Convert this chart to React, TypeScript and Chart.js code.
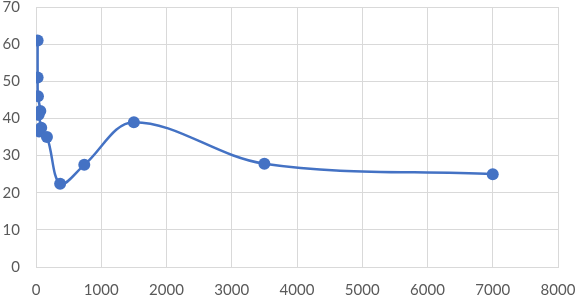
import React, { useEffect, useRef } from "react";
import { Chart, registerables } from "chart.js";

Chart.register(...registerables);

const xValues = [25, 25, 30, 66, 40, 80, 50, 168, 370, 740, 1500, 3500, 7000];
const yValues = [61, 51, 46, 42, 41, 37.5, 36.5, 35, 22.4, 27.5, 39, 27.8, 25];
const xTicks = { min: 0, max: 8000, step: 1000 };
const yTicks = { min: 0, max: 70, step: 10 };

const BLUE = "#4472C4";
const GRID = "#d9d9d9";
const TEXT = "#595959";

export default function App() {
  const ref = useRef<HTMLCanvasElement | null>(null);
  useEffect(() => {
    if (!ref.current) return;
    const data = xValues.map((x, i) => ({ x, y: yValues[i] }));
    const chart = new Chart(ref.current, {
      type: "scatter",
      data: {
        datasets: [
          {
            data,
            showLine: true,
            borderColor: BLUE,
            backgroundColor: BLUE,
            borderWidth: 2.5,
            pointRadius: 6,
            pointBorderWidth: 0,
            tension: 0.35,
          },
        ],
      },
      options: {
        responsive: false,
        animation: false,
        layout: { padding: { top: 7, left: 0, right: 19, bottom: 0 } },
        plugins: { legend: { display: false }, tooltip: { enabled: false } },
        scales: {
          x: {
            type: "linear",
            min: xTicks.min,
            max: xTicks.max,
            ticks: {
              stepSize: xTicks.step,
              color: TEXT,
              font: { family: "Lato", size: 15 },
              padding: 14,
              maxRotation: 0,
              callback: (v: any) => String(v),
            },
            grid: { color: GRID, lineWidth: 1, tickLength: 0 },
            border: { color: GRID, width: 1 },
            afterFit: (s: any) => {
              s.height = 31;
              s.paddingLeft = 0;
              s.paddingRight = 0;
              s.paddingTop = 0;
              s.paddingBottom = 0;
            },
          },
          y: {
            type: "linear",
            min: yTicks.min,
            max: yTicks.max,
            ticks: {
              stepSize: yTicks.step,
              color: TEXT,
              font: { family: "Lato", size: 15 },
              padding: 16,
              callback: (v: any) => String(v),
            },
            grid: { color: GRID, lineWidth: 1, tickLength: 0 },
            border: { color: GRID, width: 1 },
            afterFit: (s: any) => {
              s.width = 36;
              s.paddingTop = 0;
              s.paddingBottom = 0;
              s.paddingLeft = 0;
              s.paddingRight = 0;
            },
          },
        },
      },
    });
    return () => chart.destroy();
  }, []);
  return (
    <div style={{ position: "absolute", left: 0, top: 0, width: 577, height: 298, background: "#fff" }}>
      <canvas ref={ref} width={577} height={298} />
    </div>
  );
}
